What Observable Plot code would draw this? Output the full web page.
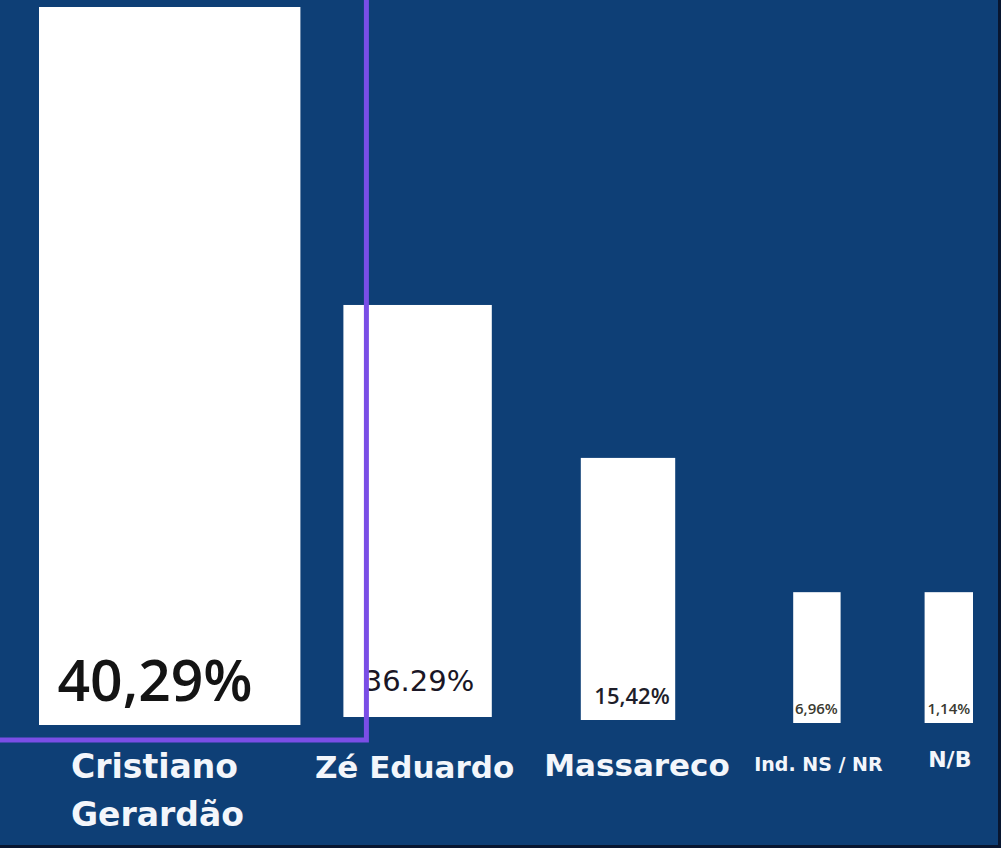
<!DOCTYPE html>
<html>
<head>
<meta charset="utf-8">
<script src="https://cdn.jsdelivr.net/npm/d3@7"></script>
<script src="https://cdn.jsdelivr.net/npm/@observablehq/plot@0.6"></script>
<style>
  html, body { margin: 0; padding: 0; background: #081630; overflow: hidden; }
  #chart svg { display: block; }
</style>
</head>
<body>
<div id="chart"></div>
<script>
// ---- data ----
const categories = ["Cristiano\nGerardão", "Zé Eduardo", "Massareco", "Ind. NS / NR", "N/B"];
const shares = [40.29, 36.29, 15.42, 6.96, 1.14];
const shareLabels = ["40,29%", "36.29%", "15,42%", "6,96%", "1,14%"];
// bar length as drawn in the picture (% of the tallest bar)
const barLengths = [100, 58.5, 37.2, 18.5, 18.5];
const highlighted = "Cristiano\nGerardão";

const data = categories.map((c, i) => ({category: c, share: shares[i], label: shareLabels[i], length: barLengths[i]}));

// ---- layout / style (not data) ----
const W = 998, H = 845;
const style = [
  {iL: 37,    iR: -99.4, iB: 0, vDx: 53,    vDy: -25, vSize: 57, vFont: "Open Sans", vWeight: 600, vFill: "#141414",
   cDx: -31,   cDy: 100, cSize: 33, cAnchor: "start"},
  {iL: 142.4, iR: -91.8, iB: 8, vDx: 118,   vDy: -35, vSize: 29, vFont: "DejaVu Sans", vWeight: 400, vFill: "#1a1626",
   cDx: 113.6, cDy: 52, cSize: 31, cAnchor: "middle"},
  {iL: 180.8, iR: -76.2, iB: 5, vDx: 132,   vDy: -22, vSize: 22, vFont: "Open Sans", vWeight: 600, vFill: "#1e1e2a",
   cDx: 137,   cDy: 50, cSize: 31, cAnchor: "middle"},
  {iL: 194.2, iR: -42.6, iB: 2, vDx: 117.4, vDy: -12, vSize: 15, vFont: "Open Sans", vWeight: 600, vFill: "#3a3a30",
   cDx: 119.4, cDy: 45, cSize: 19, cAnchor: "middle"},
  {iL: 126.6, iR: 24,    iB: 2, vDx: 50.8,  vDy: -12, vSize: 15, vFont: "Open Sans", vWeight: 600, vFill: "#3a3a30",
   cDx: 51.8,  cDy: 41, cSize: 22, cAnchor: "middle"}
];

const marks = [];
data.forEach((d, i) => {
  const s = style[i];
  marks.push(Plot.barY([d], {x: "category", y: "length", fill: "#ffffff",
    insetLeft: s.iL, insetRight: s.iR, insetBottom: s.iB}));
  marks.push(Plot.text([d], {x: "category", y: 0, text: "label", dx: s.vDx, dy: s.vDy,
    fontSize: s.vSize, fontFamily: s.vFont, fontWeight: s.vWeight, fill: s.vFill,
    textAnchor: "middle", lineAnchor: "bottom"}));
  marks.push(Plot.text([d], {x: "category", y: 0, text: "category", dx: s.cDx, dy: s.cDy,
    fontSize: s.cSize, fontFamily: "DejaVu Sans", fontWeight: "bold", fill: "#f3f6fb",
    textAnchor: s.cAnchor, lineAnchor: "bottom", lineHeight: 48 / 33}));
});
// highlight frame around the leading candidate
marks.push(Plot.barY(data.filter(d => d.category === highlighted), {x: "category", y1: 0, y2: () => 115,
  fill: "none", stroke: "#7a4ee6", strokeWidth: 5,
  insetLeft: -60, insetRight: -165.4, insetBottom: -15}));

const chart = Plot.plot({
  width: W,
  height: H,
  marginTop: 7,
  marginBottom: H - 725,
  marginLeft: 0,
  marginRight: 0,
  style: {background: "#0e3f76", overflow: "visible"},
  x: {domain: categories, padding: 0, axis: null},
  y: {domain: [0, 100], axis: null},
  marks
});
document.getElementById("chart").appendChild(chart);
</script>
</body>
</html>
